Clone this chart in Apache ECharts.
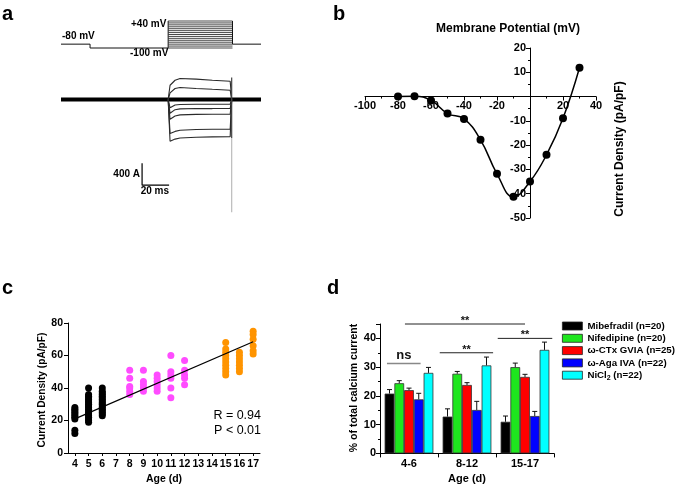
<!DOCTYPE html>
<html><head><meta charset="utf-8">
<script src="https://cdn.jsdelivr.net/npm/echarts@6/dist/echarts.min.js"></script>
<style>html,body{margin:0;padding:0;background:#fff}#c{width:675px;height:496px}</style>
</head><body><div id="c"></div>
<script>
// ---------- Panel a: voltage protocol (mV) and current traces (pA) ----------
const protoTimes = [0, 21.5, 79.3, 126.9, 148];          // ms: start, prepulse, test on, test off, end
const holdingV = -80;
const prepulseV = -100;
const testVoltages = [-100, -90, -80, -70, -60, -50, -40, -30, -20, -10, 0, 10, 20, 30, 40];
const baselineTimes = [0, 148];
const traceTimes = [79.3, 80.7, 84.4, 88.1, 100, 112, 125.2, 126.3];
const trace1 = [0, 259, 350, 382, 370, 350, 333, 0];
const trace2 = [0, 120, 200, 218, 200, 185, 169, 0];
const trace3 = [0, -150, -100, -90, -85, -85, -85, 0];
const trace4 = [0, -250, -185, -170, -165, -165, -164, 0];
const trace5 = [0, -360, -300, -280, -270, -267, -267, 0];
const trace6 = [0, -620, -580, -560, -545, -540, -540, 0];
const trace7 = [0, -760, -720, -700, -685, -680, -676, 0];
const tailTime = 126.3;
const tailCurrents = [400, -700, -2050];
const scaleBarOrigin = [60, -1558];   // ms, pA
const scaleBarPA = 400;
const scaleBarMS = 20;

// ---------- Panel b: I-V relation ----------
const ivVoltage = [-80, -70, -60, -50, -40, -30, -20, -10, 0, 10, 20, 30];
const ivCurrent = [0, 0.1, -1.6, -7, -9.2, -17.8, -31.8, -41.3, -35, -24, -8.9, 11.9];

// ---------- Panel c: current density vs age ----------
const ageCategories = ['4','5','6','7','8','9','10','11','12','13','14','15','16','17'];
const age4 = [28, 27, 26, 25, 24, 23, 22, 21, 14, 12];
const age5 = [40, 36, 35, 34, 33, 32, 31, 30, 29, 28, 27, 26, 25, 24, 23, 22, 21, 20, 19];
const age6 = [40, 38, 37, 36, 35, 34, 33, 32, 31, 30, 29, 28, 27, 26, 25, 24, 23];
const age8 = [51, 46, 41, 40, 38, 36];
const age9 = [51, 44, 42, 40, 38];
const age10 = [48, 46, 44, 42, 40, 38];
const age11 = [60, 50, 48, 46, 40, 34];
const age12 = [57, 51, 48, 46, 42];
const age15 = [68, 64, 62, 60, 58, 56, 54, 52, 50, 48];
const age16 = [62, 60, 58, 56, 54, 52, 50];
const age17 = [75, 73, 70, 66, 63, 61];
const regressionEnds = [['4', 21], ['17', 68.5]];

// ---------- Panel d: blocker fractions ----------
const ageGroups = ['4-6', '8-12', '15-17'];
const mibefradil = [20.8, 12.8, 11.0];
const mibefradilErr = [1.4, 2.7, 2.0];
const nifedipine = [24.4, 27.7, 30.0];
const nifedipineErr = [0.9, 0.8, 1.4];
const ctxGVIA = [22.0, 23.8, 26.6];
const ctxGVIAErr = [0.7, 0.8, 0.9];
const agaIVA = [18.8, 15.1, 13.0];
const agaIVAErr = [2.1, 3.0, 1.6];
const nicl2 = [28.0, 30.6, 36.0];
const nicl2Err = [1.9, 2.9, 2.7];
const sigBrackets = [
  {from: -0.07, to: 2.0, y: 45, text: '**'},
  {from: -0.38, to: 0.2, y: 31.3, text: 'ns'},
  {from: 0.53, to: 1.45, y: 35, text: '**'},
  {from: 1.53, to: 2.47, y: 40, text: '**'}
];

// ===================== build chart =====================
const FONT = '"Liberation Sans", Arial, sans-serif';
const chart = echarts.init(document.getElementById('c'), null, {renderer: 'canvas'});

function hiddenAxis(extra) {
  return Object.assign({show: false, type: 'value', splitLine: {show: false}}, extra);
}
function visAxis(extra, fs) {
  return Object.assign({
    axisLine: {show: true, onZero: false, lineStyle: {color: '#000', width: 1}},
    axisTick: {show: true, length: 4, lineStyle: {color: '#000', width: 1}},
    axisLabel: {color: '#000', fontFamily: FONT, fontWeight: 'bold', fontSize: fs, margin: 5},
    splitLine: {show: false}
  }, extra);
}
function plainLine(xi, yi, data, color, width) {
  return {type: 'line', xAxisIndex: xi, yAxisIndex: yi, showSymbol: false, clip: false, silent: true,
    lineStyle: {color: color, width: width}, data: data};
}

const series = [];

// Panel a: voltage protocol
series.push(plainLine(0, 0, [[protoTimes[0], holdingV], [protoTimes[1], holdingV], [protoTimes[1], prepulseV],
  [protoTimes[2], prepulseV], [protoTimes[2], testVoltages[testVoltages.length - 1]]], '#111', 1));
testVoltages.forEach(v => series.push(plainLine(0, 0, [[protoTimes[2], v], [protoTimes[3], v]], '#333', 0.9)));
series.push(plainLine(0, 0, [[protoTimes[3], testVoltages[testVoltages.length - 1]], [protoTimes[3], holdingV],
  [protoTimes[4], holdingV]], '#111', 1));

// Panel a: baseline and traces
series.push(plainLine(1, 1, baselineTimes.map(t => [t, 0]), '#000', 4));
[trace1, trace2, trace3, trace4, trace5, trace6, trace7].forEach(tr => {
  series.push(plainLine(1, 1, traceTimes.map((t, i) => [t, tr[i]]), '#2a2a2a', 1.1));
});
series.push(plainLine(1, 1, [[tailTime, tailCurrents[0]], [tailTime, tailCurrents[1]]], '#444', 1.2));
series.push(plainLine(1, 1, [[tailTime, tailCurrents[1]], [tailTime, tailCurrents[2]]], '#bbb', 1.2));
series.push(plainLine(1, 1, [[scaleBarOrigin[0], scaleBarOrigin[1] + scaleBarPA], scaleBarOrigin,
  [scaleBarOrigin[0] + scaleBarMS, scaleBarOrigin[1]]], '#000', 1.2));

// Panel b
series.push({type: 'line', xAxisIndex: 2, yAxisIndex: 2, smooth: 0.45, symbol: 'circle', symbolSize: 8,
  itemStyle: {color: '#000'}, lineStyle: {color: '#000', width: 1.5},
  data: ivVoltage.map((v, i) => [v, ivCurrent[i]])});

// Panel c
const scatterGroups = [
  {ages: ['4', '5', '6'], values: [age4, age5, age6], color: '#000000'},
  {ages: ['8', '9', '10', '11', '12'], values: [age8, age9, age10, age11, age12], color: '#ff4cff'},
  {ages: ['15', '16', '17'], values: [age15, age16, age17], color: '#ff9400'}
];
scatterGroups.forEach(g => {
  const data = [];
  g.ages.forEach((a, k) => g.values[k].forEach(v => data.push([ageCategories.indexOf(a), v])));
  series.push({type: 'scatter', xAxisIndex: 3, yAxisIndex: 3, symbolSize: 7,
    itemStyle: {color: g.color, opacity: 1}, data: data});
});
series.push({type: 'line', xAxisIndex: 3, yAxisIndex: 3, showSymbol: false, silent: true,
  lineStyle: {color: '#000', width: 1.2},
  data: regressionEnds.map(p => [ageCategories.indexOf(p[0]), p[1]])});

// Panel d
const barDefs = [
  {name: 'Mibefradil (n=20)', mean: mibefradil, err: mibefradilErr, color: '#000000'},
  {name: 'Nifedipine (n=20)', mean: nifedipine, err: nifedipineErr, color: '#1ee61e'},
  {name: 'ω-CTx GVIA (n=25)', mean: ctxGVIA, err: ctxGVIAErr, color: '#ff0000'},
  {name: 'ω-Aga IVA (n=22)', mean: agaIVA, err: agaIVAErr, color: '#0000ff'},
  {name: 'NiCl2 (n=22)', mean: nicl2, err: nicl2Err, color: '#00ffff'}
];
const groupFrac = 0.84;
const barFrac = groupFrac / barDefs.length;
barDefs.forEach(d => {
  series.push({type: 'bar', name: d.name, xAxisIndex: 4, yAxisIndex: 4, barGap: '0%', barCategoryGap: '16%',
    itemStyle: {color: d.color, borderColor: '#333', borderWidth: 0.8}, data: d.mean});
});
const errData = [];
barDefs.forEach((d, s) => d.mean.forEach((m, i) =>
  errData.push([i + (s - (barDefs.length - 1) / 2) * barFrac, m, m + d.err[i]])));
series.push({type: 'custom', xAxisIndex: 5, yAxisIndex: 4, clip: false, silent: true, z: 5,
  encode: {x: 0, y: [1, 2]}, data: errData,
  renderItem: (params, api) => {
    const p0 = api.coord([api.value(0), api.value(1)]);
    const p1 = api.coord([api.value(0), api.value(2)]);
    return {type: 'group', children: [
      {type: 'line', shape: {x1: p0[0], y1: p0[1], x2: p1[0], y2: p1[1]}, style: {stroke: '#111', lineWidth: 1}},
      {type: 'line', shape: {x1: p1[0] - 2.5, y1: p1[1], x2: p1[0] + 2.5, y2: p1[1]}, style: {stroke: '#111', lineWidth: 1}}
    ]};
  }});
series.push({type: 'custom', xAxisIndex: 5, yAxisIndex: 4, clip: false, silent: true, z: 5,
  encode: {x: [0, 1], y: 2}, data: sigBrackets.map(b => [b.from, b.to, b.y]),
  renderItem: (params, api) => {
    const b = sigBrackets[params.dataIndex];
    const a = api.coord([api.value(0), api.value(2)]);
    const c = api.coord([api.value(1), api.value(2)]);
    const isNs = b.text === 'ns';
    return {type: 'group', children: [
      {type: 'line', shape: {x1: a[0], y1: a[1], x2: c[0], y2: c[1]},
        style: {stroke: isNs ? '#888' : '#222', lineWidth: isNs ? 1.5 : 1}},
      {type: 'text', x: (a[0] + c[0]) / 2, y: a[1] - (isNs ? 8 : 3),
        style: {text: b.text, align: 'center', verticalAlign: 'middle', fill: '#111',
          font: (isNs ? 'bold 13px ' : 'bold 11px ') + FONT}}
    ]};
  }});

function txt(x, y, text, size, opts) {
  return Object.assign({type: 'text', x: x, y: y, silent: true,
    style: Object.assign({text: text, fill: '#000', align: 'left', verticalAlign: 'middle',
      font: 'bold ' + size + 'px ' + FONT}, (opts && opts.style) || {})},
    opts && opts.rotation ? {rotation: opts.rotation} : {});
}
const ROT = Math.PI / 2;

// panel b grid geometry: axes cross at (0,0)
const gridB = {left: 365, top: 48, width: 231, height: 170};
const bX = [-100, 40], bY = [-50, 20];
const bZeroX = gridB.left + (0 - bX[0]) / (bX[1] - bX[0]) * gridB.width;
const bZeroY = gridB.top + (bY[1] - 0) / (bY[1] - bY[0]) * gridB.height;

const option = {
  animation: false,
  backgroundColor: '#fff',
  grid: [
    {left: 61, top: 21, width: 200, height: 27},
    {left: 61, top: 50, width: 200, height: 181.5},
    gridB,
    {left: 68, top: 323, width: 192, height: 130},
    {left: 380, top: 324, width: 174, height: 129.4}
  ],
  xAxis: [
    hiddenAxis({gridIndex: 0, min: 0, max: 148}),
    hiddenAxis({gridIndex: 1, min: 0, max: 148}),
    visAxis({gridIndex: 2, type: 'value', min: bX[0], max: bX[1], interval: 20,
      offset: bZeroY - (gridB.top + gridB.height),
      minorTick: {show: true, splitNumber: 2, length: 2, lineStyle: {color: '#000'}},
      axisLabel: {color: '#000', fontFamily: FONT, fontWeight: 'bold', fontSize: 11, margin: 4,
        formatter: v => (v === 0 ? '' : String(v))}}, 11),
    visAxis({gridIndex: 3, type: 'category', data: ageCategories, boundaryGap: true,
      axisTick: {show: true, alignWithLabel: true, length: 3, lineStyle: {color: '#000'}},
      axisLabel: {color: '#000', fontFamily: FONT, fontWeight: 'bold', fontSize: 10.5, margin: 6, interval: 0}}, 10.5),
    visAxis({gridIndex: 4, type: 'category', data: ageGroups,
      axisLabel: {color: '#000', fontFamily: FONT, fontWeight: 'bold', fontSize: 11, margin: 5}}, 11),
    hiddenAxis({gridIndex: 4, min: -0.5, max: 2.5, position: 'top'})
  ],
  yAxis: [
    hiddenAxis({gridIndex: 0, min: -100, max: 40}),
    hiddenAxis({gridIndex: 1, min: -2400, max: 900}),
    visAxis({gridIndex: 2, type: 'value', min: bY[0], max: bY[1], interval: 10,
      offset: gridB.left - bZeroX,
      minorTick: {show: true, splitNumber: 2, length: 2, lineStyle: {color: '#000'}},
      axisLabel: {color: '#000', fontFamily: FONT, fontWeight: 'bold', fontSize: 11, margin: 4,
        formatter: v => (v === 0 ? '' : String(v))}}, 11),
    visAxis({gridIndex: 3, type: 'value', min: 0, max: 80, interval: 20}, 10.5),
    visAxis({gridIndex: 4, type: 'value', min: 0, max: 45, interval: 10,
      minorTick: {show: true, splitNumber: 2, length: 2, lineStyle: {color: '#000'}},
      axisLabel: {color: '#000', fontFamily: FONT, fontWeight: 'bold', fontSize: 11, margin: 4,
        showMaxLabel: false, formatter: v => (v % 10 === 0 ? String(v) : '')}}, 11)
  ],
  legend: {
    orient: 'vertical', left: 562, top: 321, padding: 0, itemWidth: 20, itemHeight: 8, itemGap: 2.3,
    selectedMode: false, icon: 'rect',
    data: barDefs.map(d => d.name),
    itemStyle: {borderColor: '#222', borderWidth: 0.8},
    formatter: n => n.replace('NiCl2', 'NiCl{sub|2}'),
    textStyle: {fontFamily: FONT, fontWeight: 'bold', fontSize: 9.7, color: '#000',
      rich: {sub: {fontFamily: FONT, fontWeight: 'bold', fontSize: 7, color: '#000', padding: [6, 0, 0, 0]}}}
  },
  graphic: [
    txt(2, 14, 'a', 20), txt(333, 14, 'b', 20), txt(2, 288, 'c', 20), txt(327, 288, 'd', 20),
    txt(62, 36.7, '-80 mV', 10), txt(131, 24.3, '+40 mV', 10), txt(130, 53.3, '-100 mV', 10),
    txt(140, 174.3, '400 A', 10, {style: {align: 'right'}}),
    txt(140.7, 191.7, '20 ms', 10),
    txt(508, 29, 'Membrane Potential (mV)', 12, {style: {align: 'center'}}),
    txt(620, 149, 'Current Density (pA/pF)', 12, {style: {align: 'center'}, rotation: ROT}),
    txt(42, 390, 'Current Density (pA/pF)', 10.2, {style: {align: 'center'}, rotation: ROT}),
    txt(164, 479, 'Age (d)', 10.5, {style: {align: 'center'}}),
    txt(261, 415.7, 'R = 0.94', 12.5, {style: {align: 'right', font: 'normal 12.5px ' + FONT}}),
    txt(261, 430.3, 'P < 0.01', 12.5, {style: {align: 'right', font: 'normal 12.5px ' + FONT}}),
    txt(354, 388, '% of total calcium current', 10.5, {style: {align: 'center'}, rotation: ROT}),
    txt(467, 479, 'Age (d)', 11, {style: {align: 'center'}})
  ],
  series: series
};
chart.setOption(option);
</script>
</body></html>
